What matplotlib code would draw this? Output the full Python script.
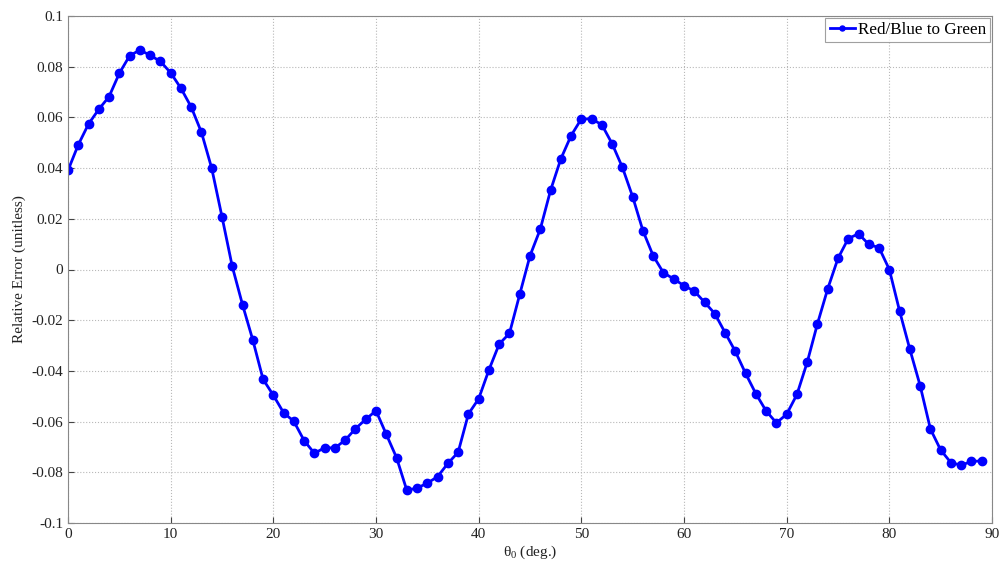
import matplotlib
matplotlib.use("Agg")
import matplotlib.pyplot as plt
from matplotlib.ticker import FuncFormatter

plt.rcParams['font.family'] = ['Liberation Serif', 'DejaVu Serif']
plt.rcParams['axes.unicode_minus'] = False

theta = list(range(0, 90))
rel_error = [
    0.0391, 0.0492, 0.0574, 0.0632, 0.0682, 0.0774, 0.0843, 0.0866, 0.0845, 0.0821,
    0.0776, 0.0715, 0.0641, 0.0541, 0.0399, 0.0208, 0.0012, -0.0139, -0.0278, -0.0433,
    -0.0496, -0.0565, -0.0599, -0.0675, -0.0725, -0.0703, -0.0704, -0.0673, -0.0628, -0.0591,
    -0.0557, -0.0650, -0.0742, -0.0871, -0.0862, -0.0843, -0.0817, -0.0765, -0.0721, -0.0570,
    -0.0510, -0.0396, -0.0294, -0.0252, -0.0098, 0.0054, 0.0159, 0.0312, 0.0436, 0.0528,
    0.0594, 0.0594, 0.0571, 0.0496, 0.0403, 0.0287, 0.0153, 0.0054, -0.0013, -0.0037,
    -0.0064, -0.0085, -0.0129, -0.0174, -0.0249, -0.0323, -0.0410, -0.0490, -0.0558, -0.0605,
    -0.0571, -0.0493, -0.0366, -0.0214, -0.0076, 0.0044, 0.0122, 0.0141, 0.0099, 0.0086,
    0.0000, -0.0164, -0.0315, -0.0458, -0.0629, -0.0712, -0.0762, -0.0772, -0.0757, -0.0755,
]
series_label = "Red/Blue to Green"
x_ticks = list(range(0, 91, 10))
y_ticks = [-0.1, -0.08, -0.06, -0.04, -0.02, 0, 0.02, 0.04, 0.06, 0.08, 0.1]

fig = plt.figure(figsize=(10.05, 5.69), dpi=100)
ax = fig.add_axes([68/1005, 1 - 523/569, (992-68)/1005, (523-16)/569])

ax.plot(theta, rel_error, color='#0000ff', linewidth=2.0, marker='o',
        markersize=6, markerfacecolor='#0000ff', markeredgecolor='#0000ff',
        label=series_label)

ax.set_xlim(0, 90)
ax.set_ylim(-0.1, 0.1)
ax.set_xticks(x_ticks)
ax.set_yticks(y_ticks)

def yfmt(v, pos):
    if abs(v) < 1e-12:
        return '0'
    return ('%.2f' % v).rstrip('0').rstrip('.')
ax.yaxis.set_major_formatter(FuncFormatter(yfmt))

ax.grid(True, linestyle=':', color='#b8b8b8', linewidth=0.8)
ax.tick_params(direction='in', length=4, labelsize=11, colors='#444444', labelcolor='#222222')
for sp in ax.spines.values():
    sp.set_color('#888888')
    sp.set_linewidth(0.8)

ax.set_xlabel(r'$\mathregular{\theta_0}$ (deg.)', fontsize=11, labelpad=2, color='#222222')
ax.set_ylabel('Relative Error (unitless)', fontsize=11, labelpad=4, color='#222222')

leg = ax.legend(loc='upper right', fontsize=12.3, frameon=True, fancybox=False,
                edgecolor='#888888', borderpad=0.25, handlelength=1.5,
                handletextpad=0.15, borderaxespad=0.1, markerscale=0.6)
leg.get_frame().set_linewidth(0.8)

fig.savefig('out.png', dpi=100)
